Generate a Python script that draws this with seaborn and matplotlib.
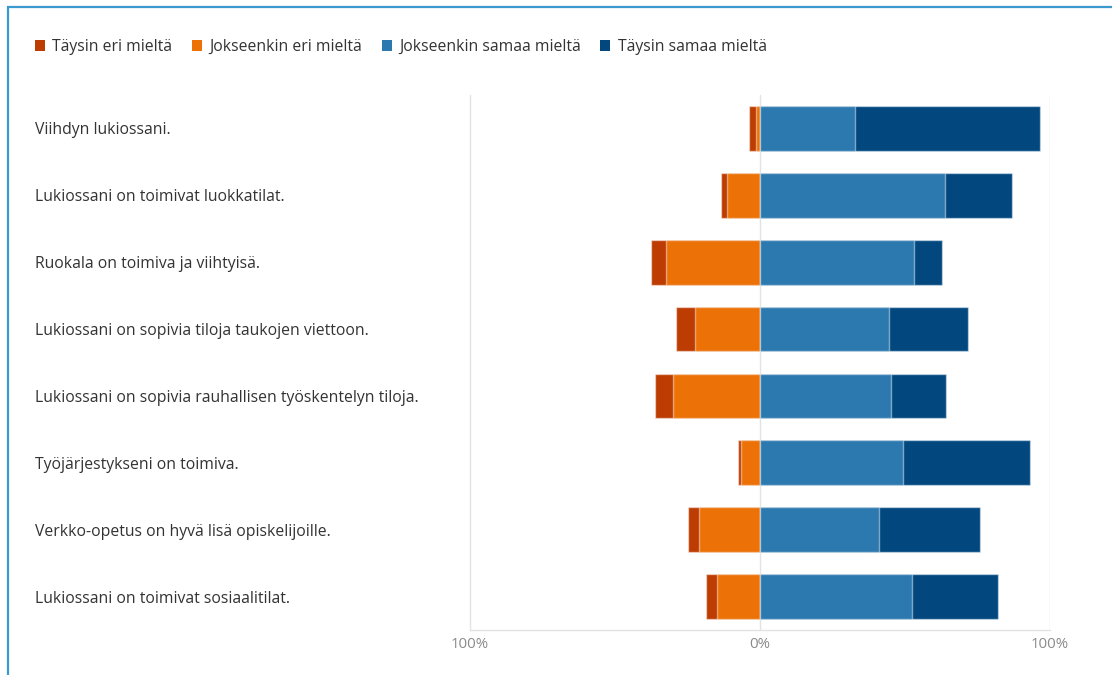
import pandas as pd
import matplotlib
matplotlib.use('Agg')
import matplotlib.pyplot as plt
from matplotlib.patches import Patch, Rectangle
import seaborn as sns

# Väittämät ja vastausjakaumat (%), luettu kuvasta
questions = [
    'Viihdyn lukiossani.',
    'Lukiossani on toimivat luokkatilat.',
    'Ruokala on toimiva ja viihtyisä.',
    'Lukiossani on sopivia tiloja taukojen viettoon.',
    'Lukiossani on sopivia rauhallisen työskentelyn tiloja.',
    'Työjärjestykseni on toimiva.',
    'Verkko-opetus on hyvä lisä opiskelijoille.',
    'Lukiossani on toimivat sosiaalitilat.',
]
taysin_eri = [2.4, 2.1, 5.2, 6.6, 6.2, 1.0, 3.8, 3.8]
jokseenkin_eri = [1.4, 11.4, 32.4, 22.4, 30.0, 6.6, 21.0, 14.8]
jokseenkin_samaa = [32.8, 63.8, 53.1, 44.5, 45.2, 49.3, 41.0, 52.4]
taysin_samaa = [63.8, 23.1, 9.7, 27.2, 19.0, 43.8, 34.8, 29.7]

series = ['Täysin eri mieltä', 'Jokseenkin eri mieltä',
          'Jokseenkin samaa mieltä', 'Täysin samaa mieltä']
colors = ['#BC3C02', '#EC7208', '#2C79B0', '#02487F']

df = pd.DataFrame({
    'kysymys': questions,
    'te': taysin_eri,
    'je': jokseenkin_eri,
    'js': jokseenkin_samaa,
    'ts': taysin_samaa,
})
# kumulatiiviset pituudet — piirretään pisin ensin, lyhyempi päälle
df['vasen_ulko'] = -(df['te'] + df['je'])
df['vasen_sisa'] = -df['je']
df['oikea_ulko'] = df['js'] + df['ts']
df['oikea_sisa'] = df['js']

sns.set_style('white')
plt.rcParams['font.family'] = ['Open Sans', 'DejaVu Sans']
FS = 11.3

fig = plt.figure(figsize=(11.12, 6.75), dpi=100)
ax = fig.add_axes([470 / 1112, 1 - 630 / 675, 580 / 1112, 535 / 675])

ax.axvline(0, color='#e3e3e3', lw=1, zorder=0)
for col, c in [('vasen_ulko', colors[0]), ('vasen_sisa', colors[1]),
               ('oikea_ulko', colors[3]), ('oikea_sisa', colors[2])]:
    sns.barplot(data=df, x=col, y='kysymys', orient='h', color=c,
                width=0.67, saturation=1, edgecolor=(1, 1, 1, 0.45),
                linewidth=1, ax=ax, zorder=2)

ax.set_xlim(-100, 100)
ax.set_ylim(7.5, -0.5)
ax.set_xticks([-100, 0, 100])
ax.set_xticklabels(['100%', '0%', '100%'], color='#8a8a8a', fontsize=10.8)
ax.tick_params(axis='x', length=0, pad=5)
ax.tick_params(axis='y', length=0, pad=313)
for lbl in ax.get_yticklabels():
    lbl.set_horizontalalignment('left')
    lbl.set_color('#333333')
    lbl.set_fontsize(FS)
ax.set_xlabel('')
ax.set_ylabel('')

for s in ['top', 'right']:
    ax.spines[s].set_visible(False)
for s in ['left', 'bottom']:
    ax.spines[s].set_color('#e3e3e3')
    ax.spines[s].set_linewidth(1)
ax.axvline(100, color='#e3e3e3', lw=1, zorder=0)

handles = [Patch(facecolor=c, edgecolor='none') for c in colors]
fig.legend(handles, series, loc='upper left', ncol=4,
           bbox_to_anchor=(21 / 1112, 1 - 25 / 675), frameon=False,
           handlelength=0.65, handleheight=0.65, handletextpad=0.45,
           columnspacing=1.25, fontsize=FS, labelcolor='#333333')

# sininen kehys vasemmalla ja ylhäällä
fig.patches.append(Rectangle((8 / 1112, -0.2), 1.2, 1.2 - 7 / 675,
                             transform=fig.transFigure, fill=False,
                             edgecolor='#3A9AD0', lw=1.6, zorder=10))

plt.savefig('out.png', dpi=100)
